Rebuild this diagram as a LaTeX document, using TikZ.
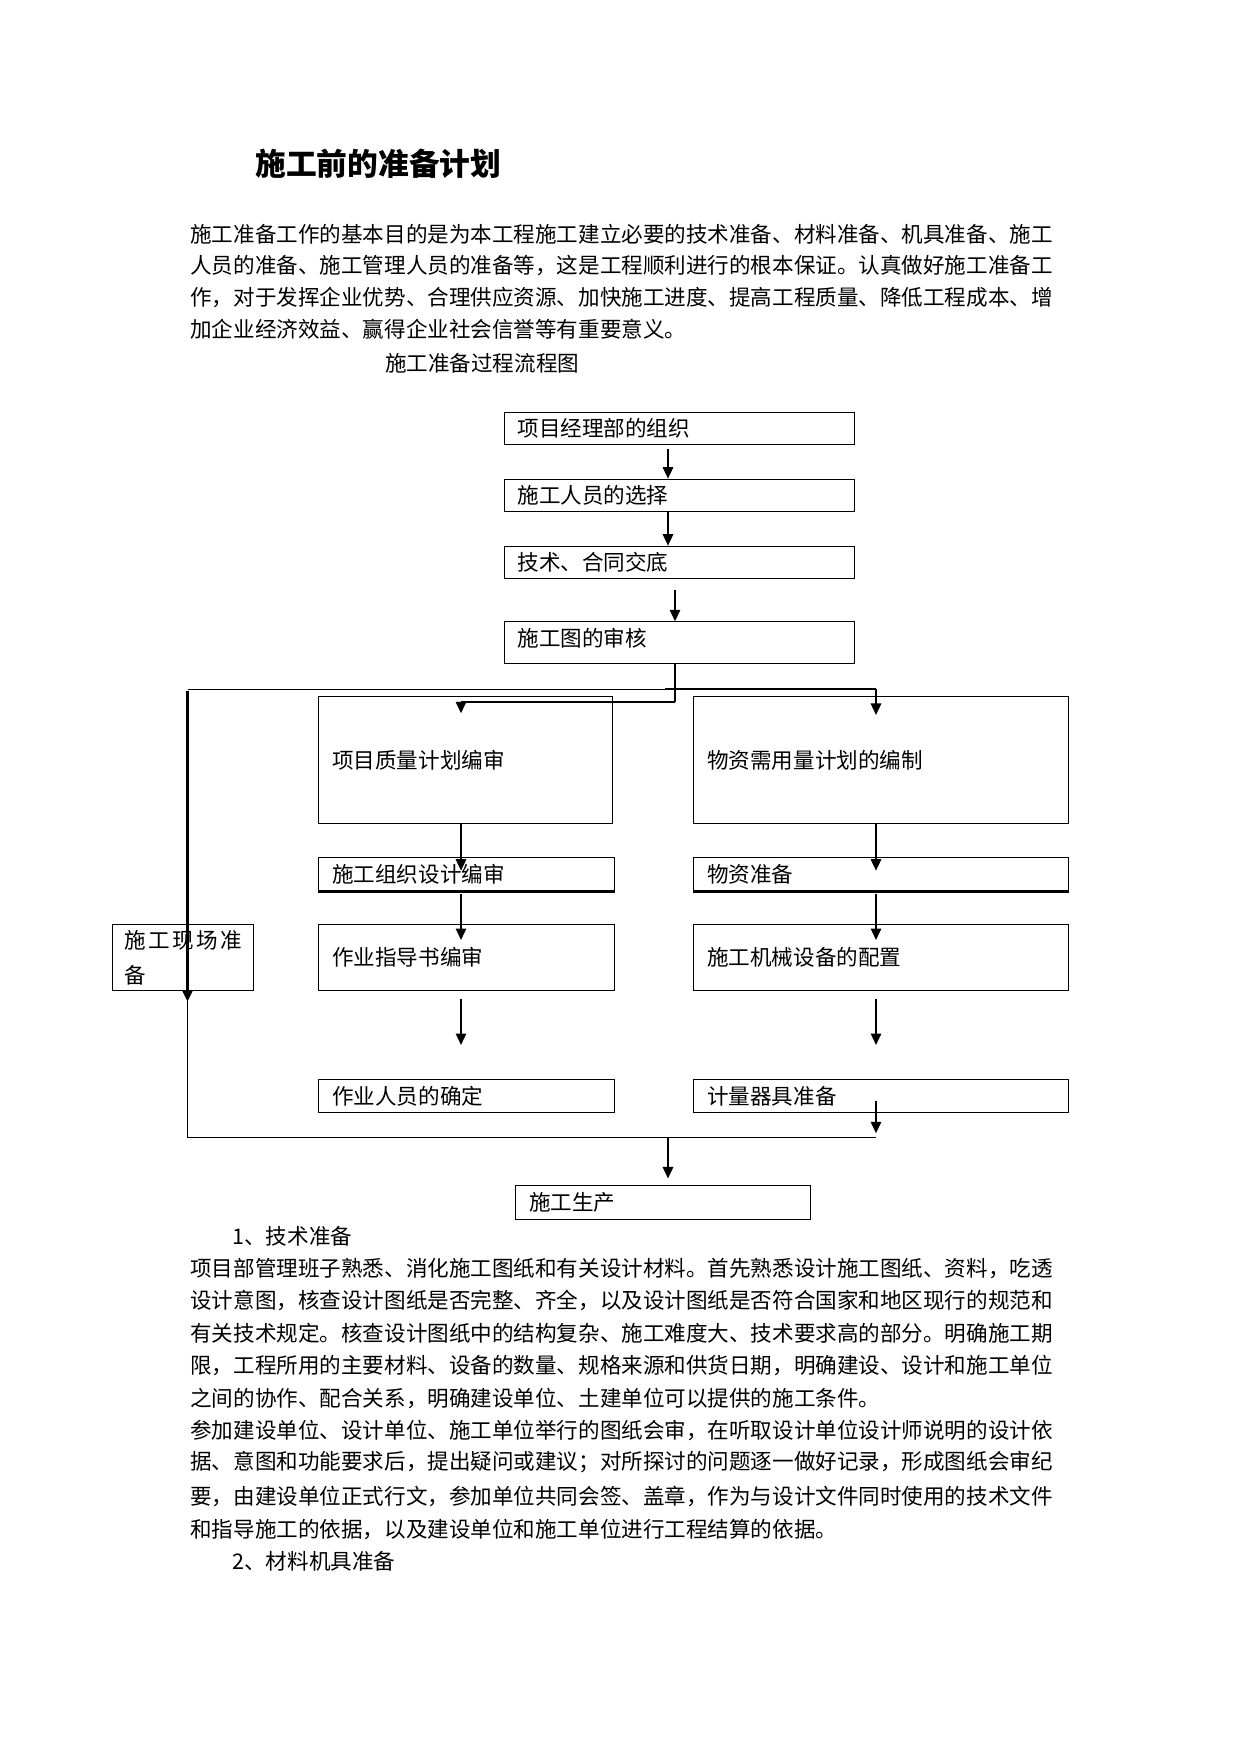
\documentclass[tikz,border=0pt]{standalone}
\usepackage{fontspec}
\setmainfont{Noto Sans CJK SC}
\usepackage{tikz}
\usetikzlibrary{arrows.meta, positioning, calc}
\newcommand{\bodyfont}{\fontsize{10.38pt}{17.2pt}\selectfont}

\begin{document}
\begin{tikzpicture}[x=0.16922mm, y=-0.16922mm,
    every node/.style={font=\bodyfont},
    box/.style={draw, line width=0.5pt, anchor=north west, inner xsep=2.28mm, inner ysep=0pt, text width=#1, align=left},
    para/.style={anchor=west, inner sep=0pt},
    hair/.style={line width=0.5pt},
    link/.style={line width=0.95pt},
    lead/.style={-{Triangle[length=1.95mm, width=1.75mm]}, line width=0.95pt}
]
\path[fill=white] (0,0) rectangle (1241,1754);
\useasboundingbox (0,0) rectangle (1241,1754);

% heading and intro
\node[para, font=\fontsize{14.8pt}{18pt}\selectfont\bfseries] (ttl) at (255,163.5) {施工前的准备计划};
\node[para] (p1) at (190,234) {施工准备工作的基本目的是为本工程施工建立必要的技术准备、材料准备、机具准备、施工};
\node[para] (p2) at (190,266) {人员的准备、施工管理人员的准备等，这是工程顺利进行的根本保证。认真做好施工准备工};
\node[para] (p3) at (190,297.5) {作，对于发挥企业优势、合理供应资源、加快施工进度、提高工程质量、降低工程成本、增};
\node[para] (p4) at (190,329) {加企业经济效益、赢得企业社会信誉等有重要意义。};
\node[para] (ftl) at (384.7,363) {施工准备过程流程图};

% main chain
\node[box=54.72mm, minimum height=5.50mm] (xm) at (503.6,411.8) {项目经理部的组织};
\node[box=54.72mm, minimum height=5.50mm] (ry) at (503.6,478.7) {施工人员的选择};
\node[box=54.72mm, minimum height=5.50mm] (jd) at (503.6,545.7) {技术、合同交底};
\node[box=54.72mm, minimum height=7.11mm, text depth=1.8mm] (tz) at (503.6,621.3) {施工图的审核};

% left column
\node[box=45.09mm, minimum height=21.49mm] (zl) at (318.3,696.3) {项目质量计划编审};
\node[box=45.51mm, minimum height=5.58mm] (zz) at (318.3,857.3) {施工组织设计编审};
\node[box=45.51mm, minimum height=11.12mm] (zd) at (318.3,924.3) {作业指导书编审};
\node[box=45.51mm, minimum height=5.69mm] (qr) at (318.3,1078.7) {作业人员的确定};

% right column
\node[box=58.85mm, minimum height=21.49mm] (xq) at (693.3,696.3) {物资需用量计划的编制};
\node[box=58.85mm, minimum height=5.58mm] (wz) at (693.3,857.3) {物资准备};
\node[box=58.85mm, minimum height=11.12mm] (jx) at (693.3,924.3) {施工机械设备的配置};
\node[box=58.85mm, minimum height=5.69mm] (jl) at (693.3,1078.7) {计量器具准备};

\node[box=19.75mm, inner xsep=2.05mm, minimum height=11.12mm] (xc) at (112.3,924.3) {施\hfill 工\hfill 现\hfill 场\hfill 准\\备};
\node[box=45.36mm, minimum height=5.67mm] (sc) at (515,1185) {施工生产};

\draw[line width=1.2pt] (zz.south west) -- (zz.south east);
\draw[line width=1.2pt] (wz.south west) -- (wz.south east);

% connectors
\coordinate (cm) at (668,0);
\coordinate (cl) at (461,0);
\coordinate (cr) at (876,0);
\coordinate (sp) at (675,701.7);
\coordinate (tl) at (461,713.3);
\coordinate (tr) at (876,715);
\coordinate (lv) at (187.5,689.3);
\coordinate (tj) at (665,689.3);
\coordinate (bt) at (187.5,1137.3);

\draw[lead, shorten <=0.7mm] (xm.south -| cm) -- (ry.north -| cm);
\draw[lead] (ry.south -| cm) -- (jd.north -| cm);
\draw[lead, shorten <=1.8mm] (jd.south -| sp) -- (tz.north -| sp);
\draw[link] (tz.south -| sp) -- (sp);
\draw[link] (sp) -- (sp -| cl);
\draw[lead] (sp -| cl) -- (tl);

\draw[hair] (lv) -- (tj);
\draw[link] (tj) -- (lv -| cr);
\draw[lead] (lv -| cr) -- (tr);

\draw[lead, line width=1.35pt, shorten >=-1.81mm] ([yshift=-0.3mm]lv) -- (xc.south -| lv);
\draw[hair] (xc.south -| lv) -- (bt) -- (bt -| cr);

\draw[lead, shorten >=-2.27mm] (zl.south -| cl) -- (zz.north -| cl);
\draw[lead, shorten <=0.5mm, shorten >=-2.66mm] (zz.south -| cl) -- (zd.north -| cl);
\draw[lead, shorten <=1.4mm, shorten >=5.7mm] (zd.south -| cl) -- (qr.north -| cl);

\draw[lead, shorten >=-2.27mm] (xq.south -| cr) -- (wz.north -| cr);
\draw[lead, shorten <=0.5mm, shorten >=-2.66mm] (wz.south -| cr) -- (jx.north -| cr);
\draw[lead, shorten <=1.4mm, shorten >=5.7mm] (jx.south -| cr) -- (jl.north -| cr);

\draw[lead, shorten <=-2.08mm, shorten >=0.68mm] (jl.south -| cr) -- (bt -| cr);
\draw[lead, shorten >=1.1mm] (bt -| cm) -- (sc.north -| cm);

% text after the chart
\node[para] (s1) at (232,1236) {1、技术准备};
\node[para] (q1) at (190,1269) {项目部管理班子熟悉、消化施工图纸和有关设计材料。首先熟悉设计施工图纸、资料，吃透};
\node[para] (q2) at (190,1300.5) {设计意图，核查设计图纸是否完整、齐全，以及设计图纸是否符合国家和地区现行的规范和};
\node[para] (q3) at (190,1333) {有关技术规定。核查设计图纸中的结构复杂、施工难度大、技术要求高的部分。明确施工期};
\node[para] (q4) at (190,1365.5) {限，工程所用的主要材料、设备的数量、规格来源和供货日期，明确建设、设计和施工单位};
\node[para] (q5) at (190,1399) {之间的协作、配合关系，明确建设单位、土建单位可以提供的施工条件。};
\node[para] (q6) at (190,1430.5) {参加建设单位、设计单位、施工单位举行的图纸会审，在听取设计单位设计师说明的设计依};
\node[para] (q7) at (190,1462.5) {据、意图和功能要求后，提出疑问或建议；对所探讨的问题逐一做好记录，形成图纸会审纪};
\node[para] (q8) at (190,1496) {要，由建设单位正式行文，参加单位共同会签、盖章，作为与设计文件同时使用的技术文件};
\node[para] (q9) at (190,1530) {和指导施工的依据，以及建设单位和施工单位进行工程结算的依据。};
\node[para] (s2) at (232,1561.5) {2、材料机具准备};

\end{tikzpicture}
\end{document}
